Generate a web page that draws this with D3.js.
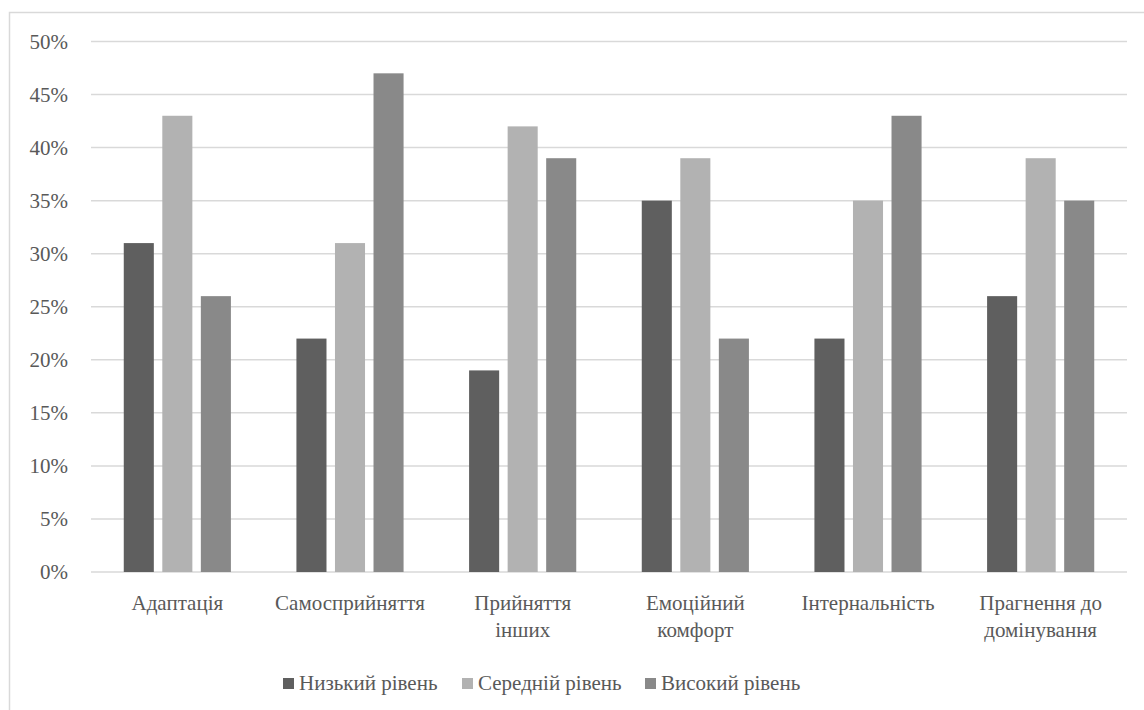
<!DOCTYPE html>
<html>
<head>
<meta charset="utf-8">
<script src="https://cdn.jsdelivr.net/npm/d3@7"></script>
<style>
  html, body { margin: 0; padding: 0; background: #fff; }
  svg { display: block; }
  svg text { fill: #595959; }
</style>
</head>
<body>
<svg id="chart" width="1144" height="710"></svg>
<script>
// Categories (two-line labels split with "\n")
const categories = [
  "Адаптація",
  "Самосприйняття",
  "Прийняття\nінших",
  "Емоційний\nкомфорт",
  "Інтернальність",
  "Прагнення до\nдомінування"
];
const seriesNames = ["Низький рівень", "Середній рівень", "Високий рівень"];
const lowLevel    = [31, 22, 19, 35, 22, 26];
const middleLevel = [43, 31, 42, 39, 35, 39];
const highLevel   = [26, 47, 39, 22, 43, 35];
const yTicks = [0, 5, 10, 15, 20, 25, 30, 35, 40, 45, 50];
const colors = ["#5f5f5f", "#b2b2b2", "#898989"];

const series = [lowLevel, middleLevel, highLevel];
const FONT = "'Times New Roman', 'Liberation Serif', Tinos, 'Noto Serif', 'DejaVu Serif', FreeSerif, serif";
const svg = d3.select("#chart").attr("font-family", FONT);

// chart frame
svg.append("rect")
  .attr("x", 9.5).attr("y", 12.5)
  .attr("width", 1200).attr("height", 800)
  .attr("fill", "none").attr("stroke", "#d9d9d9").attr("stroke-width", 1.5);

const plot = { left: 91, right: 1127, top: 41.5, bottom: 572 };

const x0 = d3.scaleBand().domain(categories).range([plot.left, plot.right]).paddingInner(0).paddingOuter(0);
const x1 = d3.scaleBand().domain(seriesNames).range([0, x0.bandwidth()]).paddingInner(0.22).paddingOuter(0.85);
const y = d3.scaleLinear().domain([0, 50]).range([plot.bottom, plot.top]);

// gridlines
svg.append("g")
  .selectAll("line")
  .data(yTicks)
  .join("line")
  .attr("x1", plot.left).attr("x2", plot.right)
  .attr("y1", d => y(d)).attr("y2", d => y(d))
  .attr("stroke", "#d9d9d9").attr("stroke-width", 1.5);

// y tick labels
svg.append("g")
  .selectAll("text")
  .data(yTicks)
  .join("text")
  .attr("x", 68).attr("y", d => y(d))
  .attr("dy", "0.35em")
  .attr("text-anchor", "end")
  .attr("font-family", FONT)
  .attr("font-size", 21)
  .text(d => d + "%");

// bars
const groups = svg.append("g")
  .selectAll("g")
  .data(categories)
  .join("g")
  .attr("transform", d => `translate(${x0(d)},0)`);

groups.selectAll("rect")
  .data((d, i) => series.map((s, j) => ({ name: seriesNames[j], value: s[i], j })))
  .join("rect")
  .attr("x", d => x1(d.name))
  .attr("width", x1.bandwidth())
  .attr("y", d => y(d.value))
  .attr("height", d => y(0) - y(d.value))
  .attr("fill", d => colors[d.j]);

// category labels
const catLabels = svg.append("g")
  .selectAll("text")
  .data(categories)
  .join("text")
  .attr("x", d => x0(d) + x0.bandwidth() / 2)
  .attr("y", 610)
  .attr("text-anchor", "middle")
  .attr("font-family", FONT)
  .attr("font-size", 21);
catLabels.selectAll("tspan")
  .data(d => d.split("\n"))
  .join("tspan")
  .attr("x", function () { return d3.select(this.parentNode).attr("x"); })
  .attr("dy", (d, i) => i === 0 ? 0 : 27)
  .text(d => d);

// legend
const legendX = [283, 462, 645];
const legend = svg.append("g")
  .selectAll("g")
  .data(seriesNames)
  .join("g")
  .attr("transform", (d, i) => `translate(${legendX[i]},683)`);
legend.append("rect")
  .attr("x", 0).attr("y", -5).attr("width", 11).attr("height", 11)
  .attr("fill", (d, i) => colors[i]);
legend.append("text")
  .attr("x", 16).attr("y", 0).attr("dy", "0.35em")
  .attr("font-family", FONT)
  .attr("font-size", 21)
  .text(d => d);
</script>
</body>
</html>
